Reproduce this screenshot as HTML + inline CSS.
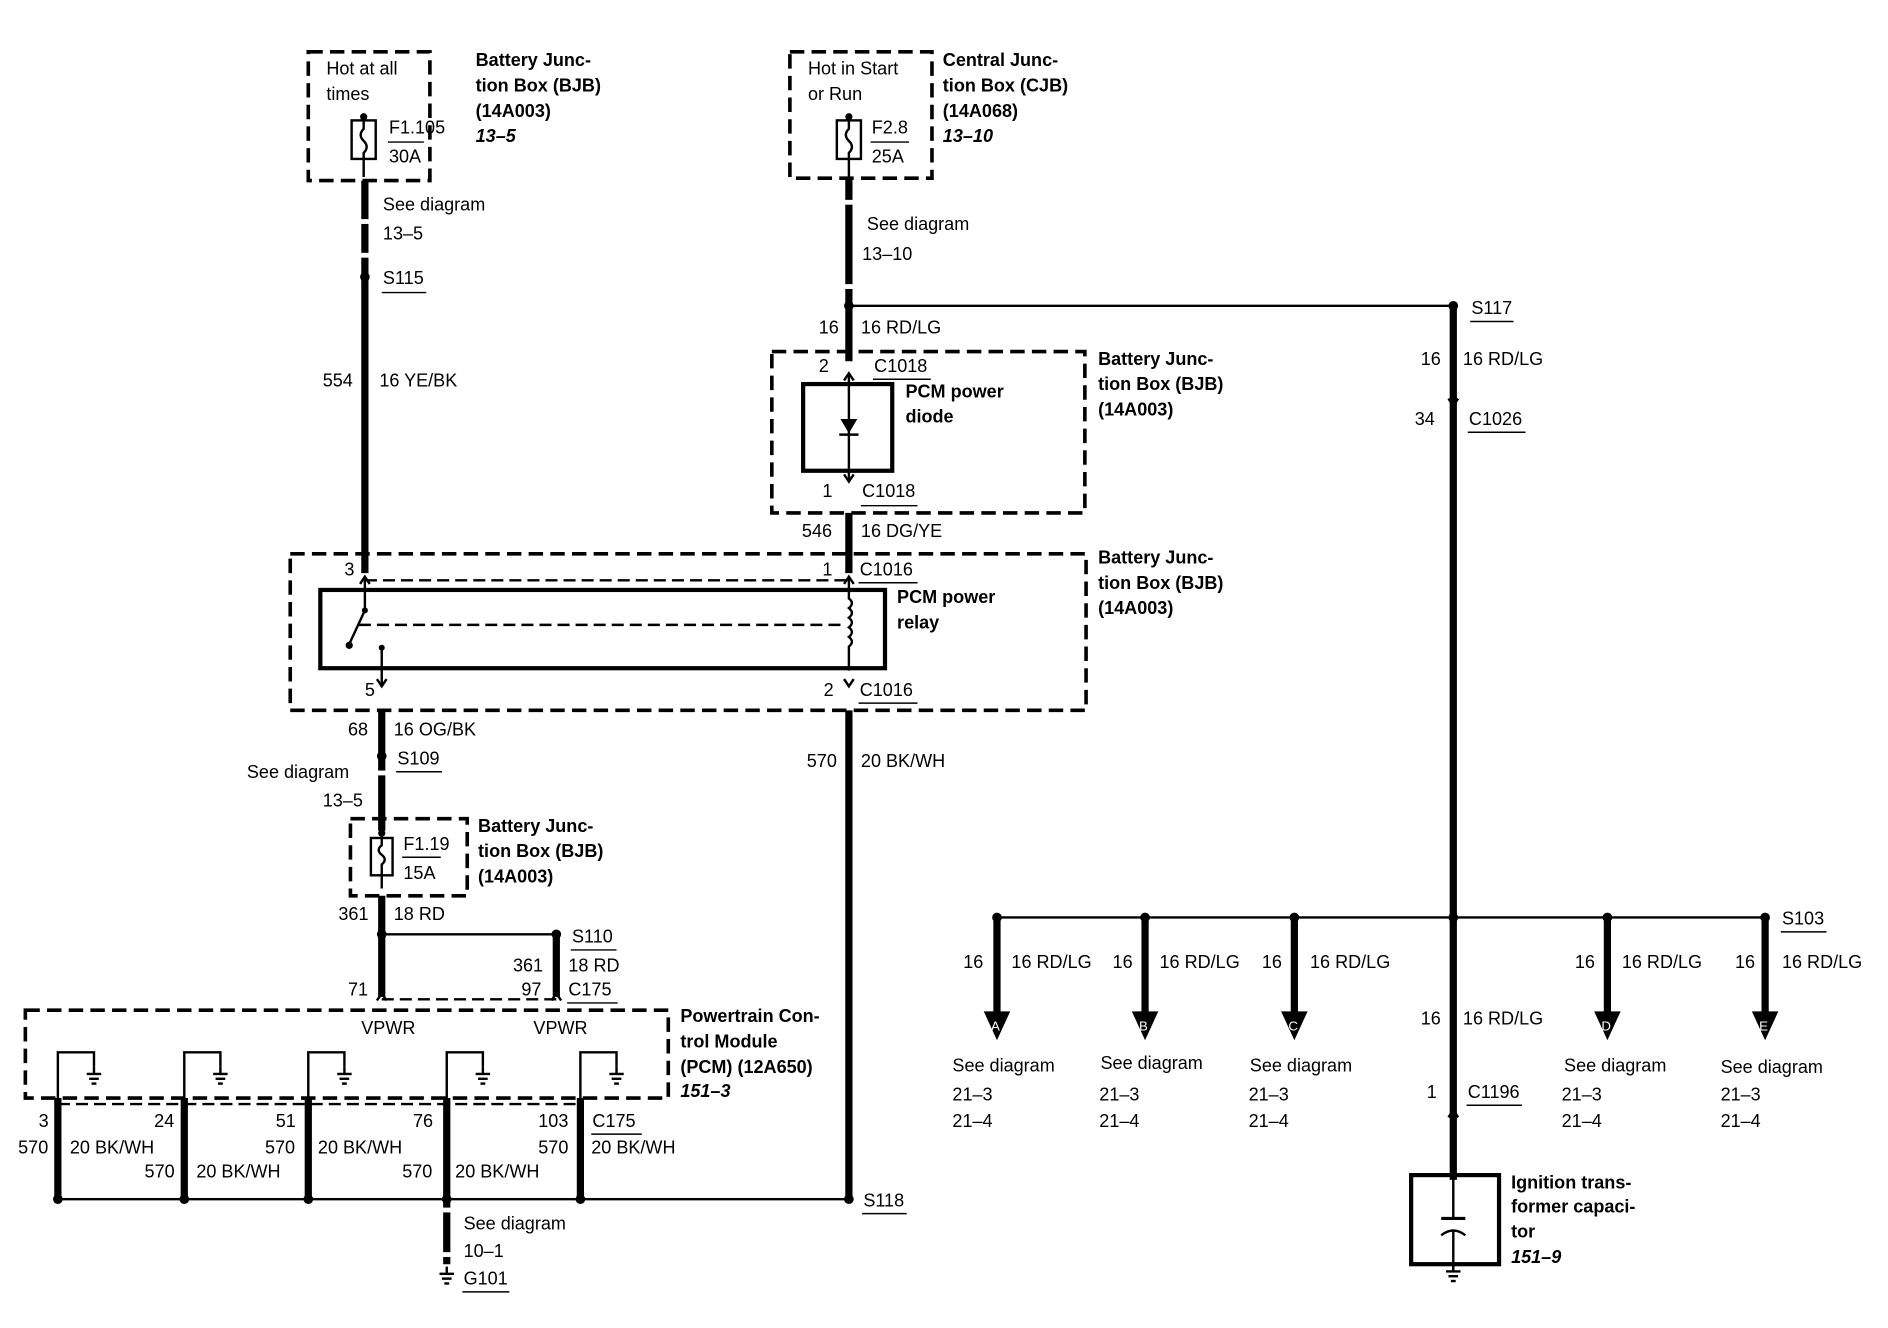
<!DOCTYPE html>
<html><head><meta charset="utf-8"><style>
html,body{margin:0;padding:0;background:#fff;}
svg{display:block;}
text{font-family:"Liberation Sans",sans-serif;font-size:15px;fill:#000;}
.b{font-weight:bold;}
.i{font-weight:bold;font-style:italic;}
.w{stroke:#000;stroke-width:6;fill:none;}
.t{stroke:#000;stroke-width:2;fill:none;}
.d{stroke:#000;stroke-width:3;fill:none;stroke-dasharray:12,6;}
.dt{stroke:#000;stroke-width:2;fill:none;stroke-dasharray:10,5;}
.s{stroke:#000;stroke-width:3.5;fill:none;}
.u{stroke:#000;stroke-width:1.2;}
</style></head><body>
<svg width="1888" height="1328" viewBox="0 0 1568 1103" xmlns="http://www.w3.org/2000/svg">
<rect width="1568" height="1103" fill="#fff"/>
<defs>
<g id="gnd"><line x1="0" y1="0" x2="0" y2="6" class="t"/><line x1="-6" y1="6" x2="6" y2="6" class="t"/><line x1="-4" y1="10" x2="4" y2="10" class="t"/><line x1="-2" y1="14" x2="2" y2="14" class="t"/></g>
<g id="up"><polyline points="-4,6 0,0 4,6" stroke="#000" stroke-width="2" fill="none"/></g>
<g id="dn"><polyline points="-4,-6 0,0 4,-6" stroke="#000" stroke-width="2" fill="none"/></g>
</defs>

<!-- Box 1 -->
<rect x="256" y="43" width="101" height="107" class="d"/>
<text x="271" y="62">Hot at all</text><text x="271" y="83">times</text>
<rect x="292" y="100" width="20" height="32" class="t"/>
<path d="M302,97 v10 q-5,5 0,10 q5,5 0,10 v20" class="t"/>
<circle cx="302" cy="97" r="3"/>
<text x="323" y="111">F1.105</text><line x1="322" y1="118" x2="352" y2="118" class="u"/>
<text x="323" y="135">30A</text>
<text x="395" y="55" class="b">Battery Junc-</text><text x="395" y="76" class="b">tion Box (BJB)</text><text x="395" y="97" class="b">(14A003)</text><text x="395" y="118" class="i">13–5</text>
<line x1="303" y1="150" x2="303" y2="476" class="w"/>
<rect x="298" y="182" width="10" height="4" fill="#fff"/><rect x="298" y="210" width="10" height="4" fill="#fff"/>
<text x="318" y="175">See diagram</text><text x="318" y="199">13–5</text>
<circle cx="303" cy="230" r="4"/><text x="318" y="236">S115</text><line x1="317" y1="243" x2="354" y2="243" class="u"/>
<text x="268" y="321">554</text><text x="315" y="321">16 YE/BK</text>

<!-- Box 2 -->
<rect x="656" y="43" width="118" height="105" class="d"/>
<text x="671" y="62">Hot in Start</text><text x="671" y="83">or Run</text>
<rect x="695" y="100" width="20" height="32" class="t"/>
<path d="M705,97 v10 q-5,5 0,10 q5,5 0,10 v20" class="t"/>
<circle cx="705" cy="97" r="3"/>
<text x="724" y="111">F2.8</text><line x1="723" y1="118" x2="755" y2="118" class="u"/>
<text x="724" y="135">25A</text>
<text x="783" y="55" class="b">Central Junc-</text><text x="783" y="76" class="b">tion Box (CJB)</text><text x="783" y="97" class="b">(14A068)</text><text x="783" y="118" class="i">13–10</text>
<line x1="705" y1="148" x2="705" y2="300" class="w"/>
<rect x="700" y="166" width="10" height="4" fill="#fff"/><rect x="700" y="236" width="10" height="4" fill="#fff"/>
<text x="720" y="191">See diagram</text><text x="716" y="216">13–10</text>
<circle cx="705" cy="254" r="4"/>
<line x1="705" y1="254" x2="1207" y2="254" class="t"/>
<circle cx="1207" cy="254" r="4"/><text x="1222" y="261">S117</text><line x1="1221" y1="267" x2="1257" y2="267" class="u"/>
<text x="680" y="277">16</text><text x="715" y="277">16 RD/LG</text>

<!-- Diode box -->
<rect x="641" y="292" width="260" height="134" class="d"/>
<text x="680" y="309">2</text><text x="726" y="309">C1018</text><line x1="725" y1="315" x2="773" y2="315" class="u"/>
<use href="#up" x="705" y="310"/>
<line x1="705" y1="310" x2="705" y2="398" class="t"/>
<rect x="667" y="319" width="74" height="72" class="s"/>
<polygon points="698,348 712,348 705,360" fill="#000"/><line x1="697" y1="361" x2="713" y2="361" class="t"/>
<text x="752" y="330" class="b">PCM power</text><text x="752" y="351" class="b">diode</text>
<use href="#dn" x="705" y="400"/>
<text x="683" y="413">1</text><text x="716" y="413">C1018</text><line x1="715" y1="420" x2="762" y2="420" class="u"/>
<text x="912" y="303" class="b">Battery Junc-</text><text x="912" y="324" class="b">tion Box (BJB)</text><text x="912" y="345" class="b">(14A003)</text>
<line x1="705" y1="426" x2="705" y2="476" class="w"/>
<text x="666" y="446">546</text><text x="715" y="446">16 DG/YE</text>

<!-- Relay box -->
<rect x="241" y="460" width="661" height="130" class="d"/>
<text x="286" y="478">3</text><text x="683" y="478">1</text><text x="714" y="478">C1016</text><line x1="713" y1="484" x2="762" y2="484" class="u"/>
<line x1="303" y1="482" x2="705" y2="482" class="dt"/>
<use href="#up" x="303" y="479"/><use href="#up" x="705" y="479"/>
<rect x="266" y="490" width="469" height="65" class="s"/>
<line x1="303" y1="479" x2="303" y2="506" class="t"/><circle cx="303" cy="507" r="2.5"/>
<line x1="303" y1="507" x2="290" y2="535" class="t"/><circle cx="290" cy="536" r="3"/>
<line x1="298" y1="519" x2="702" y2="519" class="dt"/>
<circle cx="317" cy="538" r="2.5"/><line x1="317" y1="538" x2="317" y2="570" class="t"/>
<path d="M705,479 v18 q5,4 0,8 q5,4 0,8 q5,4 0,8 q5,4 0,8 q5,4 0,8 v20" class="t"/>
<use href="#dn" x="317" y="570"/><use href="#dn" x="705" y="570"/>
<text x="303" y="578">5</text><text x="684" y="578">2</text><text x="714" y="578">C1016</text><line x1="713" y1="584" x2="762" y2="584" class="u"/>
<text x="745" y="501" class="b">PCM power</text><text x="745" y="522" class="b">relay</text>
<text x="912" y="468" class="b">Battery Junc-</text><text x="912" y="489" class="b">tion Box (BJB)</text><text x="912" y="510" class="b">(14A003)</text>

<!-- OG/BK -->
<line x1="317" y1="590" x2="317" y2="690" class="w"/>
<rect x="312" y="640" width="10" height="4" fill="#fff"/>
<text x="289" y="611">68</text><text x="327" y="611">16 OG/BK</text>
<circle cx="317" cy="628" r="4"/><text x="330" y="635">S109</text><line x1="329" y1="641" x2="367" y2="641" class="u"/>
<text x="205" y="646">See diagram</text><text x="268" y="670">13–5</text>
<rect x="291" y="680" width="97" height="64" class="d"/>
<rect x="308" y="696" width="18" height="31" class="t"/>
<path d="M317,692 v10 q-5,4 0,8 q5,4 0,8 v20" class="t"/><circle cx="317" cy="692" r="3"/>
<text x="335" y="706">F1.19</text><line x1="334" y1="712" x2="366" y2="712" class="u"/><text x="335" y="730">15A</text>
<text x="397" y="691" class="b">Battery Junc-</text><text x="397" y="712" class="b">tion Box (BJB)</text><text x="397" y="733" class="b">(14A003)</text>
<line x1="317" y1="744" x2="317" y2="828" class="w"/>
<text x="281" y="764">361</text><text x="327" y="764">18 RD</text>
<circle cx="317" cy="776" r="4"/><line x1="317" y1="776" x2="462" y2="776" class="t"/><circle cx="462" cy="776" r="4"/>
<line x1="462" y1="776" x2="462" y2="828" class="w"/>
<text x="475" y="783">S110</text><line x1="474" y1="789" x2="512" y2="789" class="u"/>
<text x="426" y="807">361</text><text x="472" y="807">18 RD</text>
<text x="433" y="827">97</text><text x="472" y="827">C175</text><line x1="471" y1="833" x2="513" y2="833" class="u"/>
<text x="289" y="827">71</text>
<line x1="317" y1="830" x2="462" y2="830" class="dt"/>
<use href="#up" x="317" y="825"/><use href="#up" x="462" y="825"/>

<!-- PCM -->
<rect x="21" y="839" width="534" height="73" class="d"/>
<text x="300" y="859">VPWR</text><text x="443" y="859">VPWR</text>
<text x="565" y="849" class="b">Powertrain Con-</text><text x="565" y="870" class="b">trol Module</text><text x="565" y="891" class="b">(PCM) (12A650)</text><text x="565" y="911" class="i">151–3</text>
<g>
<polyline points="48,915 48,874 78,874 78,886" class="t"/><use href="#gnd" x="78" y="886"/>
<polyline points="153,915 153,874 183,874 183,886" class="t"/><use href="#gnd" x="183" y="886"/>
<polyline points="256,915 256,874 286,874 286,886" class="t"/><use href="#gnd" x="286" y="886"/>
<polyline points="371,915 371,874 401,874 401,886" class="t"/><use href="#gnd" x="401" y="886"/>
<polyline points="482,915 482,874 512,874 512,886" class="t"/><use href="#gnd" x="512" y="886"/>
</g>
<line x1="48" y1="917" x2="482" y2="917" class="dt"/>
<g class="w">
<line x1="48" y1="912" x2="48" y2="996"/><line x1="153" y1="912" x2="153" y2="996"/><line x1="256" y1="912" x2="256" y2="996"/><line x1="371" y1="912" x2="371" y2="996"/><line x1="482" y1="912" x2="482" y2="996"/>
</g>
<text x="32" y="936">3</text><text x="15" y="958">570</text><text x="58" y="958">20 BK/WH</text>
<text x="128" y="936">24</text><text x="120" y="978">570</text><text x="163" y="978">20 BK/WH</text>
<text x="229" y="936">51</text><text x="220" y="958">570</text><text x="264" y="958">20 BK/WH</text>
<text x="343" y="936">76</text><text x="334" y="978">570</text><text x="378" y="978">20 BK/WH</text>
<text x="447" y="936">103</text><text x="492" y="936">C175</text><line x1="491" y1="942" x2="533" y2="942" class="u"/>
<text x="447" y="958">570</text><text x="491" y="958">20 BK/WH</text>
<line x1="48" y1="996" x2="705" y2="996" class="t"/>
<circle cx="48" cy="996" r="4"/><circle cx="153" cy="996" r="4"/><circle cx="256" cy="996" r="4"/><circle cx="371" cy="996" r="4"/><circle cx="482" cy="996" r="4"/><circle cx="705" cy="996" r="4"/>
<text x="717" y="1002">S118</text><line x1="716" y1="1008" x2="753" y2="1008" class="u"/>
<line x1="705" y1="590" x2="705" y2="996" class="w"/>
<text x="670" y="637">570</text><text x="715" y="637">20 BK/WH</text>
<line x1="371" y1="996" x2="371" y2="1050" class="w"/>
<rect x="366" y="1003" width="10" height="4" fill="#fff"/><rect x="366" y="1040" width="10" height="4" fill="#fff"/>
<text x="385" y="1021">See diagram</text><text x="385" y="1044">10–1</text>
<use href="#gnd" x="371" y="1052"/>
<text x="385" y="1067">G101</text><line x1="384" y1="1073" x2="423" y2="1073" class="u"/>

<!-- Right -->
<line x1="1207" y1="254" x2="1207" y2="980" class="w"/>
<text x="1180" y="303">16</text><text x="1215" y="303">16 RD/LG</text>
<use href="#dn" x="1207" y="337"/>
<text x="1175" y="353">34</text><text x="1220" y="353">C1026</text><line x1="1219" y1="359" x2="1267" y2="359" class="u"/>
<line x1="828" y1="762" x2="1466" y2="762" class="t"/>
<circle cx="1207" cy="762" r="4"/>
<g>
<circle cx="828" cy="762" r="4"/><line x1="828" y1="762" x2="828" y2="842" class="w"/><polygon points="817,840 839,840 828,864" fill="#000"/><text x="823" y="856" style="font-size:11px;fill:#fff">A</text>
<circle cx="951" cy="762" r="4"/><line x1="951" y1="762" x2="951" y2="842" class="w"/><polygon points="940,840 962,840 951,864" fill="#000"/><text x="946" y="856" style="font-size:11px;fill:#fff">B</text>
<circle cx="1075" cy="762" r="4"/><line x1="1075" y1="762" x2="1075" y2="842" class="w"/><polygon points="1064,840 1086,840 1075,864" fill="#000"/><text x="1070" y="856" style="font-size:11px;fill:#fff">C</text>
<circle cx="1335" cy="762" r="4"/><line x1="1335" y1="762" x2="1335" y2="842" class="w"/><polygon points="1324,840 1346,840 1335,864" fill="#000"/><text x="1330" y="856" style="font-size:11px;fill:#fff">D</text>
<circle cx="1466" cy="762" r="4"/><line x1="1466" y1="762" x2="1466" y2="842" class="w"/><polygon points="1455,840 1477,840 1466,864" fill="#000"/><text x="1461" y="856" style="font-size:11px;fill:#fff">E</text>
</g>
<text x="1480" y="768">S103</text><line x1="1479" y1="774" x2="1517" y2="774" class="u"/>
<text x="800" y="804">16</text><text x="840" y="804">16 RD/LG</text>
<text x="924" y="804">16</text><text x="963" y="804">16 RD/LG</text>
<text x="1048" y="804">16</text><text x="1088" y="804">16 RD/LG</text>
<text x="1308" y="804">16</text><text x="1347" y="804">16 RD/LG</text>
<text x="1441" y="804">16</text><text x="1480" y="804">16 RD/LG</text>
<text x="1180" y="851">16</text><text x="1215" y="851">16 RD/LG</text>
<text x="791" y="890">See diagram</text><text x="791" y="914">21–3</text><text x="791" y="936">21–4</text>
<text x="914" y="888">See diagram</text><text x="913" y="914">21–3</text><text x="913" y="936">21–4</text>
<text x="1038" y="890">See diagram</text><text x="1037" y="914">21–3</text><text x="1037" y="936">21–4</text>
<text x="1299" y="890">See diagram</text><text x="1297" y="914">21–3</text><text x="1297" y="936">21–4</text>
<text x="1429" y="891">See diagram</text><text x="1429" y="914">21–3</text><text x="1429" y="936">21–4</text>
<text x="1185" y="912">1</text><text x="1219" y="912">C1196</text><line x1="1218" y1="918" x2="1264" y2="918" class="u"/>
<use href="#up" x="1207" y="922"/>
<rect x="1172" y="976" width="73" height="74" class="s"/>
<line x1="1207" y1="978" x2="1207" y2="1012" class="t"/><line x1="1197" y1="1012" x2="1217" y2="1012" stroke="#000" stroke-width="2.5"/>
<path d="M1197,1026 q10,-8 20,0" class="t" stroke-width="2.5"/><line x1="1207" y1="1022" x2="1207" y2="1055" class="t"/>
<use href="#gnd" x="1207" y="1050"/>
<text x="1255" y="987" class="b">Ignition trans-</text><text x="1255" y="1007" class="b">former capaci-</text><text x="1255" y="1028" class="b">tor</text><text x="1255" y="1049" class="i">151–9</text>
</svg>
</body></html>
